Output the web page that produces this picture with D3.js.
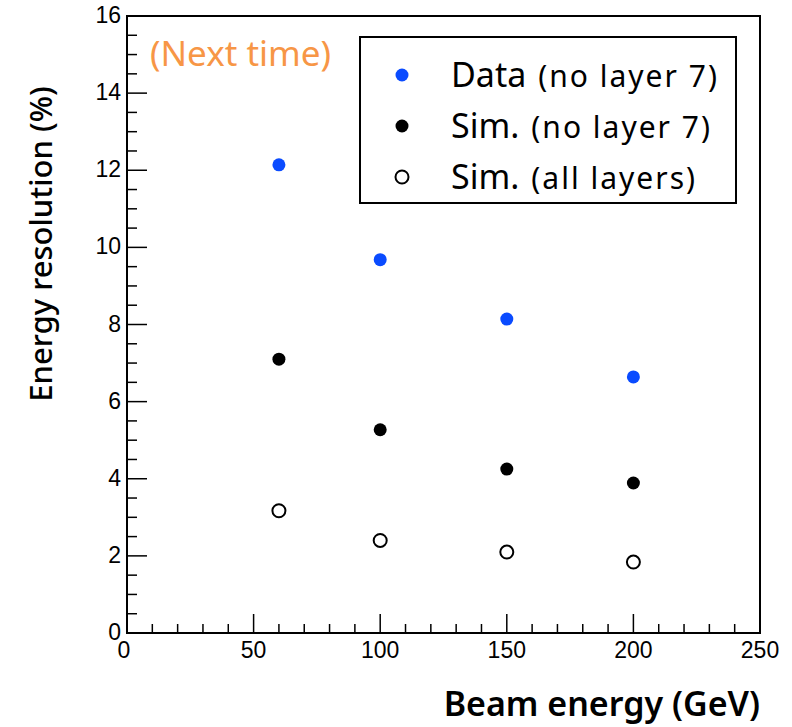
<!DOCTYPE html>
<html><head><meta charset="utf-8">
<script src="https://cdn.jsdelivr.net/npm/d3@7"></script>
<style>body{margin:0;background:#fff}svg{display:block}</style>
</head><body>
<svg id="c" width="792" height="727"></svg>
<script>
const energies = [60, 100, 150, 200];
const dataNoL7 = [12.14, 9.68, 8.14, 6.64];
const simNoL7 = [7.10, 5.27, 4.25, 3.89];
const simAll = [3.17, 2.40, 2.10, 1.84];
const xTicks = [0, 50, 100, 150, 200, 250];
const yTicks = [0, 2, 4, 6, 8, 10, 12, 14, 16];
const legendLabels = [["Data", "(no layer 7)"], ["Sim.", "(no layer 7)"], ["Sim.", "(all layers)"]];

const svg = d3.select("#c");
const L = 127, R = 760, T = 16, B = 633;
const x = d3.scaleLinear().domain([0, 250]).range([L, R]);
const y = d3.scaleLinear().domain([0, 16]).range([B, T]);

// frame
svg.append("rect").attr("x", L).attr("y", T).attr("width", R - L).attr("height", B - T)
  .attr("fill", "none").attr("stroke", "#000").attr("stroke-width", 2);

// y ticks (inward)
const yMinor = d3.range(0, 16.01, 0.5);
svg.append("g").selectAll("line").data(yMinor).join("line")
  .attr("x1", L).attr("x2", d => L + (d % 2 === 0 ? 20 : 10))
  .attr("y1", d => y(d)).attr("y2", d => y(d))
  .attr("stroke", "#000").attr("stroke-width", 1.5);
svg.append("g").selectAll("text").data(yTicks).join("text")
  .attr("x", L - 6).attr("y", d => y(d) + 7)
  .attr("text-anchor", "end").attr("font-family", "Liberation Sans, Arial, sans-serif")
  .attr("font-size", 23).text(d => d);

// x ticks (inward)
const xMinor = d3.range(0, 250.1, 10);
svg.append("g").selectAll("line").data(xMinor).join("line")
  .attr("x1", d => x(d)).attr("x2", d => x(d))
  .attr("y1", B).attr("y2", d => B - (d % 50 === 0 ? 19 : 9))
  .attr("stroke", "#000").attr("stroke-width", 1.5);
svg.append("g").selectAll("text").data(xTicks).join("text")
  .attr("x", d => x(d) - (d === 0 ? 3 : 0)).attr("y", B + 25)
  .attr("text-anchor", "middle").attr("font-family", "Liberation Sans, Arial, sans-serif")
  .attr("font-size", 23).text(d => d);

// axis titles
svg.append("text").attr("transform", `translate(52,${(88 + 400) / 2}) rotate(-90)`)
  .attr("text-anchor", "middle").attr("font-family", "Noto Sans, sans-serif")
  .attr("font-size", 31).attr("font-weight", 500).text("Energy resolution (%)");
svg.append("text").attr("x", 760).attr("y", 716)
  .attr("text-anchor", "end").attr("font-family", "Noto Sans, sans-serif")
  .attr("font-size", 34).attr("font-weight", 600).text("Beam energy (GeV)");

// annotation
svg.append("text").attr("x", 150).attr("y", 66)
  .attr("font-family", "Noto Sans, sans-serif").attr("font-size", 35)
  .attr("fill", "#F79646").text("(Next time)");

// points
const pts = svg.append("g");
pts.selectAll(".d").data(energies).join("circle")
  .attr("cx", d => x(d)).attr("cy", (d, i) => y(dataNoL7[i])).attr("r", 6.5).attr("fill", "#0a4bff");
pts.selectAll(".s").data(energies).join("circle")
  .attr("cx", d => x(d)).attr("cy", (d, i) => y(simNoL7[i])).attr("r", 6.5).attr("fill", "#000");
pts.selectAll(".a").data(energies).join("circle")
  .attr("cx", d => x(d)).attr("cy", (d, i) => y(simAll[i])).attr("r", 6.5)
  .attr("fill", "#fff").attr("stroke", "#000").attr("stroke-width", 2);

// legend
const lg = svg.append("g");
lg.append("rect").attr("x", 360).attr("y", 37).attr("width", 376).attr("height", 166)
  .attr("fill", "#fff").attr("stroke", "#000").attr("stroke-width", 2);
const lgY = [75, 126, 177];
const styles = [{f: "#0a4bff", s: "none", r: 6.5}, {f: "#000", s: "none", r: 6.5}, {f: "#fff", s: "#000", r: 6.5}];
legendLabels.forEach((lab, i) => {
  lg.append("circle").attr("cx", 402).attr("cy", lgY[i]).attr("r", styles[i].r)
    .attr("fill", styles[i].f).attr("stroke", styles[i].s).attr("stroke-width", 2);
  const t = lg.append("text").attr("x", 451).attr("y", lgY[i] + 12)
    .attr("font-family", "Noto Sans, sans-serif").attr("fill", "#000");
  t.append("tspan").attr("font-size", 34).text(lab[0]);
  t.append("tspan").attr("font-size", 30).attr("dx", 12).attr("letter-spacing", 2).text(lab[1]);
});
</script>
</body></html>
